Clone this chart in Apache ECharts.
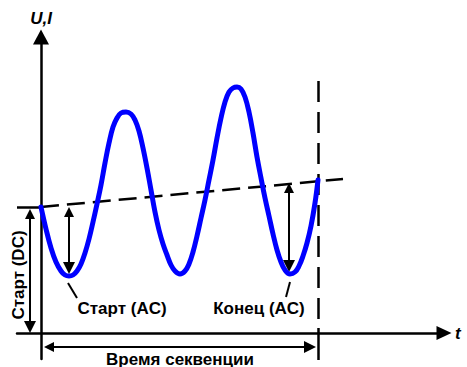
<!DOCTYPE html>
<html>
<head>
<meta charset="utf-8">
<script src="https://cdn.jsdelivr.net/npm/echarts@6/dist/echarts.min.js"></script>
<style>
html,body{margin:0;padding:0;background:#fff;}
#c{width:467px;height:367px;}
</style>
</head>
<body>
<div id="c"></div>
<script>
// ---- data (value units of the chart) ----
var curveT = [0,5,10,15,20,24,28,32,36,40,44,48,52,56,60,64,68,72,76,80,85,90,94,98,102,106,110,114,118,122,126,130,134,139,144,148,152,156,160,164,168,172,176,180,184,188,192,196,200,204,208,212,216,220,224,228,232,236,240,244,249,254,258,262,266,270,274,277];
var curveV = [126,104,85,71,62,58,57,58,62,69,80,94,111,129,148,170,190,206,215,220,221,219,213,202,185,165,143,121,103,89,78,68,62,59,62,69,81,97,115,133,153,173,195,215,231,241,245,246,244,236,221,200,176,155,135,117,99,83,71,63,59,61,67,77,90,107,130,153];
var trendLine    = [[0,126],[302,154]];
var dcLevel      = [[-24,126],[0,126]];
var dcArrow      = [[-11,119],[-11,6]];
var startAcArrow = [[28,121],[28,65]];
var endAcArrow   = [[248,145],[248,67]];
var timeArrow    = [[8,-14],[269,-14]];
var startLeader  = [[27,50],[36,35]];
var endLeader    = [[249,51],[245,36]];
var endMarker    = [[277,252],[277,11]];
var endTick      = [[277,5],[277,-27]];
var labelNames   = ['Старт (AC)','Конец (AC)','Время секвенции','Старт (DC)'];
var labelPos     = [[36,25],[218,25],[139,-26],[-23,58]];
var axisNames    = ['t','U,I'];

var FONT = 'Liberation Sans, Arial, sans-serif';
var chart = echarts.init(document.getElementById('c'), null, {renderer:'svg'});

function seg(arr){ return {coords: arr}; }

var option = {
  animation:false,
  backgroundColor:'#fff',
  grid:{left:17, top:37, width:427, height:322, containLabel:false, outerBoundsMode:'none'},
  xAxis:{
    type:'value', min:-24, max:403,
    name: axisNames[0], nameLocation:'end', nameGap:11,
    nameTextStyle:{fontFamily:FONT, fontWeight:'bold', fontStyle:'italic', fontSize:17, color:'#000'},
    axisLine:{onZero:true, symbol:['none','triangle'], symbolSize:[14,15], lineStyle:{color:'#000', width:2.5}},
    axisTick:{show:false}, axisLabel:{show:false}, splitLine:{show:false}
  },
  yAxis:{
    type:'value', min:-26, max:296,
    name: axisNames[1], nameLocation:'end', nameGap:10,
    nameTextStyle:{fontFamily:FONT, fontWeight:'bold', fontStyle:'italic', fontSize:17, color:'#000'},
    axisLine:{onZero:true, symbol:['none','triangle'], symbolSize:[16,15], lineStyle:{color:'#000', width:2.5}},
    axisTick:{show:false}, axisLabel:{show:false}, splitLine:{show:false}
  },
  series:[
    { type:'lines', coordinateSystem:'cartesian2d', silent:true, clip:false,
      symbol:'none',
      lineStyle:{color:'#000', width:2.5, opacity:1, type:[18,8]},
      data:[seg(trendLine)] },
    { type:'lines', coordinateSystem:'cartesian2d', silent:true, clip:false,
      symbol:'none',
      lineStyle:{color:'#000', width:2.5, opacity:1, type:[21,10]},
      data:[seg(endMarker)] },
    { type:'lines', coordinateSystem:'cartesian2d', silent:true, clip:false,
      symbol:'none',
      lineStyle:{color:'#000', width:2.5, opacity:1},
      data:[seg(dcLevel), seg(endTick)] },
    { type:'lines', coordinateSystem:'cartesian2d', silent:true, clip:false,
      symbol:'none',
      lineStyle:{color:'#000', width:2, opacity:1},
      data:[seg(startLeader), seg(endLeader)] },
    { type:'lines', coordinateSystem:'cartesian2d', silent:true, clip:false,
      symbol:['triangle','triangle'], symbolSize:[10,12],
      lineStyle:{color:'#000', width:2, opacity:1},
      data:[seg(dcArrow), seg(startAcArrow), seg(endAcArrow), seg(timeArrow)] },
    { type:'line', silent:true, clip:false, smooth:0.4, showSymbol:false, symbol:'none',
      lineStyle:{color:'#0000ff', width:5, cap:'round', join:'round'},
      data: curveT.map(function(t,i){ return [t, curveV[i]]; }) },
    { type:'scatter', silent:true, clip:false, symbolSize:1,
      itemStyle:{color:'rgba(0,0,0,0)'},
      data: labelNames.map(function(n,i){
        var d = {name:n, value:labelPos[i]};
        if (i === 0) d.label = {position:'right', distance:0, align:'left'};
        if (i === 3) d.label = {rotate:90};
        return d;
      }),
      label:{show:true, position:'inside', opacity:1,
        fontFamily:FONT, fontWeight:'bold', fontSize:17, color:'#000',
        formatter:function(p){return p.name;}}
    }
  ]
};
chart.setOption(option);
</script>
</body>
</html>
